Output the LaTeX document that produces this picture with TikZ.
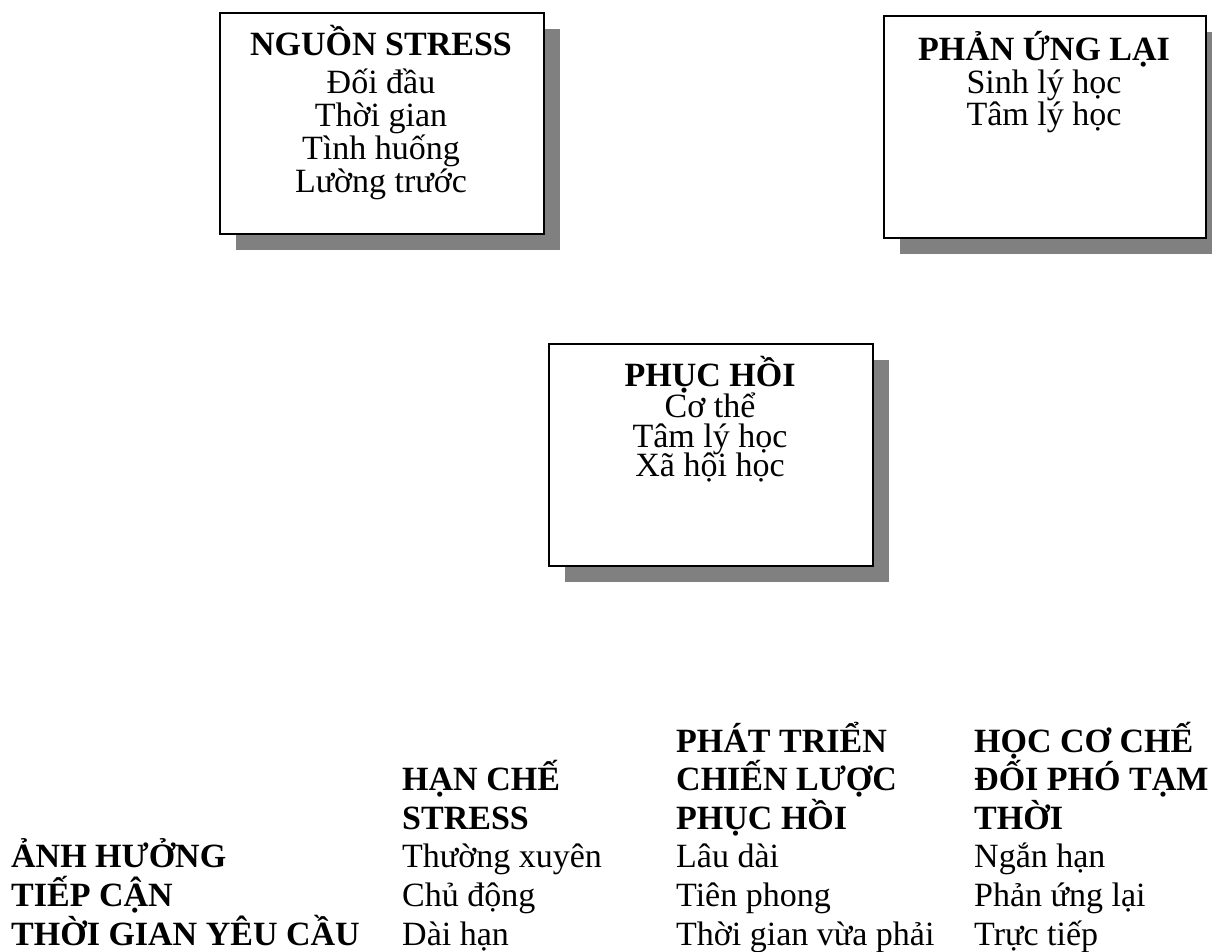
\documentclass[tikz,border=0pt]{standalone}
\usepackage{fontspec}
\setmainfont{Liberation Serif}
\usetikzlibrary{shadows}
\definecolor{shade}{HTML}{808080}
\tikzset{
  panel/.style={draw=black, line width=2pt, fill=white, anchor=north west,
    minimum width=324pt, minimum height=221pt, inner sep=0pt,
    drop shadow={shadow xshift=15.5pt, shadow yshift=-15.5pt, opacity=1, fill=shade}},
  panelhead/.style={anchor=base, inner sep=0pt, font=\bfseries\fontsize{34}{34}\selectfont},
  panelline/.style={anchor=base, inner sep=0pt, font=\fontsize{34}{34}\selectfont},
  colhead/.style={anchor=base west, inner sep=0pt, font=\bfseries\fontsize{34}{39}\selectfont},
  cell/.style={anchor=base west, inner sep=0pt, font=\fontsize{34}{39}\selectfont},
}
\begin{document}
\begin{tikzpicture}[x=1pt, y=-1pt]
  \useasboundingbox (0,0) rectangle (1212,951);
  \clip (0,0) rectangle (1212,951);

  % --- three framed boxes with drop shadows ---
  \node[panel] (source) at (219,12) {};
  \node[panelhead] (sourceh) at (381,55) {NGUỒN STRESS};
  \node[panelline] (source1) at (381,93) {Đối đầu};
  \node[panelline] (source2) at (381,126) {Thời gian};
  \node[panelline] (source3) at (381,159) {Tình huống};
  \node[panelline] (source4) at (381,192) {Lường trước};

  \node[panel, minimum width=322pt, minimum height=222pt] (react) at (883,15) {};
  \node[panelhead] (reacth) at (1044,60) {PHẢN ỨNG LẠI};
  \node[panelline] (react1) at (1044,93) {Sinh lý học};
  \node[panelline] (react2) at (1044,125) {Tâm lý học};

  \node[panel, minimum height=222pt] (recover) at (548,343) {};
  \node[panelhead] (recoverh) at (710,386) {PHỤC HỒI};
  \node[panelline] (recover1) at (710,417) {Cơ thể};
  \node[panelline] (recover2) at (710,447) {Tâm lý học};
  \node[panelline] (recover3) at (710,476) {Xã hội học};

  % --- comparison table ---
  % column headers (bottom aligned)
  \node[colhead] (h1a) at (402,790.6) {HẠN CHẾ};
  \node[colhead] (h1b) at (402,829.2) {STRESS};
  \node[colhead] (h2a) at (676,752) {PHÁT TRIỂN};
  \node[colhead] (h2b) at (676,790.6) {CHIẾN LƯỢC};
  \node[colhead] (h2c) at (676,829.2) {PHỤC HỒI};
  \node[colhead] (h3a) at (974,752) {HỌC CƠ CHẾ};
  \node[colhead] (h3b) at (974,790.6) {ĐỐI PHÓ TẠM};
  \node[colhead] (h3c) at (974,829.2) {THỜI};

  % row labels
  \node[colhead] (r1) at (11,867.8) {ẢNH HƯỞNG};
  \node[colhead] (r2) at (11,906.4) {TIẾP CẬN};
  \node[colhead] (r3) at (11,945) {THỜI GIAN YÊU CẦU};

  % cells
  \node[cell] (c11) at (402,867.8) {Thường xuyên};
  \node[cell] (c21) at (402,906.4) {Chủ động};
  \node[cell] (c31) at (402,945) {Dài hạn};
  \node[cell] (c12) at (676,867.8) {Lâu dài};
  \node[cell] (c22) at (676,906.4) {Tiên phong};
  \node[cell] (c32) at (676,945) {Thời gian vừa phải};
  \node[cell] (c13) at (974,867.8) {Ngắn hạn};
  \node[cell] (c23) at (974,906.4) {Phản ứng lại};
  \node[cell] (c33) at (974,945) {Trực tiếp};
\end{tikzpicture}
\end{document}
